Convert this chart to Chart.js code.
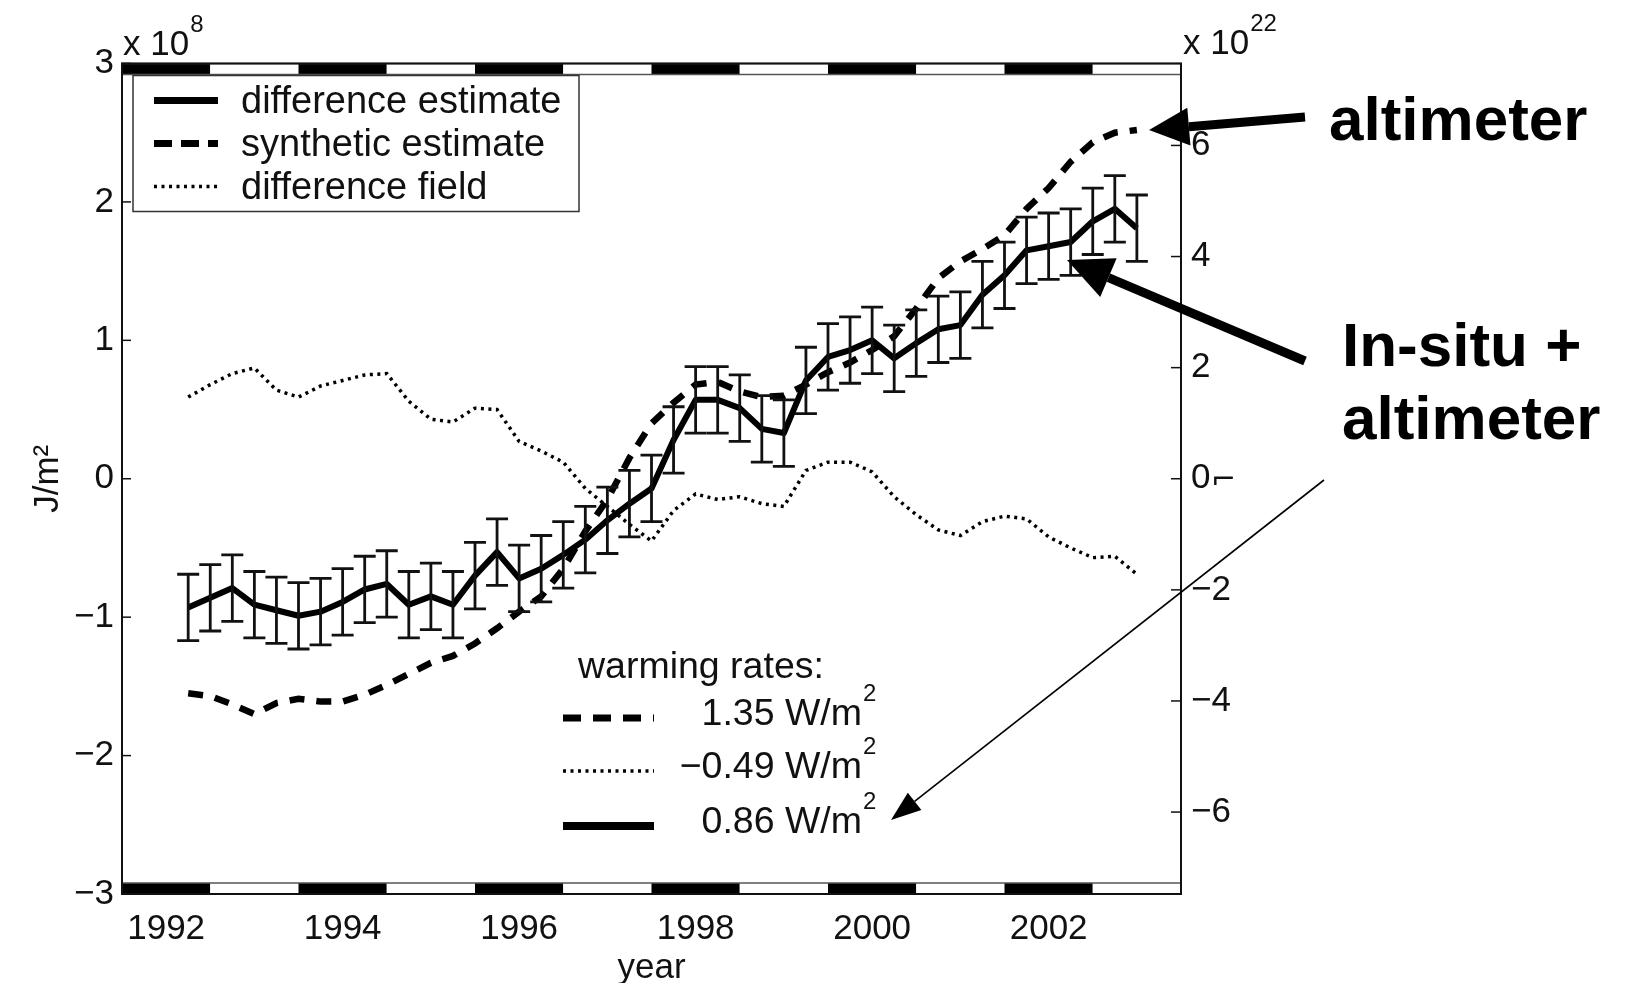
<!DOCTYPE html>
<html>
<head>
<meta charset="utf-8">
<script src="https://cdn.jsdelivr.net/npm/chart.js@4.4.1/dist/chart.umd.min.js"></script>
<style>
html,body{margin:0;padding:0;background:#fff;}
canvas{display:block;}
</style>
</head>
<body>
<canvas id="mycanvas" width="1628" height="983"></canvas>
<script>
// quarterly sample times (year)
var years=[1992.25,1992.5,1992.75,1993,1993.25,1993.5,1993.75,1994,1994.25,1994.5,1994.75,
	1995,1995.25,1995.5,1995.75,1996,1996.25,1996.5,1996.75,1997,1997.25,1997.5,1997.75,
	1998,1998.25,1998.5,1998.75,1999,1999.25,1999.5,1999.75,2000,2000.25,2000.5,2000.75,
	2001,2001.25,2001.5,2001.75,2002,2002.25,2002.5,2002.75,2003];

// difference estimate (x 10^8 J/m2), with error bar half widths
var diffEst=[-0.93,-0.86,-0.79,-0.91,-0.95,-0.99,-0.96,-0.89,-0.80,-0.76,-0.91,
	-0.85,-0.91,-0.70,-0.53,-0.72,-0.65,-0.55,-0.44,-0.30,-0.18,-0.07,0.28,
	0.57,0.57,0.51,0.36,0.33,0.71,0.88,0.93,1.00,0.87,0.98,1.08,
	1.11,1.33,1.47,1.65,1.68,1.71,1.86,1.95,1.81];
var errHalf=[0.24,0.24,0.24,0.24,0.24,0.24,0.24,0.24,0.24,0.24,0.24,
	0.24,0.24,0.24,0.24,0.24,0.24,0.24,0.24,0.24,0.24,0.24,0.24,
	0.24,0.24,0.24,0.24,0.24,0.24,0.24,0.24,0.24,0.24,0.24,0.24,
	0.24,0.24,0.24,0.24,0.24,0.24,0.24,0.24,0.24];

// synthetic estimate (altimeter)
var synthEst=[-1.55,-1.57,-1.63,-1.70,-1.62,-1.59,-1.61,-1.61,-1.56,-1.49,-1.41,
	-1.33,-1.28,-1.19,-1.08,-0.96,-0.85,-0.65,-0.38,-0.15,0.15,0.40,0.55,
	0.68,0.70,0.63,0.59,0.60,0.68,0.77,0.84,0.93,1.03,1.23,1.45,
	1.57,1.66,1.76,1.95,2.10,2.29,2.43,2.50,2.52];

// difference field
var diffField=[0.59,0.68,0.76,0.80,0.64,0.59,0.67,0.71,0.75,0.76,0.56,
	0.43,0.41,0.51,0.50,0.27,0.20,0.12,-0.07,-0.20,-0.33,-0.45,-0.23,
	-0.11,-0.15,-0.13,-0.18,-0.20,0.06,0.12,0.12,0.05,-0.13,-0.26,-0.37,
	-0.41,-0.31,-0.27,-0.29,-0.42,-0.50,-0.57,-0.56,-0.69];

var xTickYears=[1992,1994,1996,1998,2000,2002];
var leftTicks=[-3,-2,-1,0,1,2,3];
var rightTicks=[-6,-4,-2,0,2,4,6];
var stripBlackYears=[1992,1994,1996,1998,2000,2002];

var seriesNames=["difference estimate","synthetic estimate","difference field"];
var rateLabels=["1.35 W/m","\u22120.49 W/m","0.86 W/m"];

var FONT="'Liberation Sans', Arial, Helvetica, sans-serif";
Chart.defaults.font.family=FONT;
Chart.defaults.color="#111";

function pts(vals){
	var out=[];
	for (var i=0;i<years.length;i++) out.push({x:years[i],y:vals[i]});
	return out;
}
function minus(v){ return String(v).replace('-','\u2212'); }

function arrow(ctx,x1,y1,x2,y2,w,hl,hw){
	var a=Math.atan2(y2-y1,x2-x1);
	var bx=x2-hl*Math.cos(a), by=y2-hl*Math.sin(a);
	ctx.lineWidth=w;
	ctx.beginPath(); ctx.moveTo(x1,y1); ctx.lineTo(bx,by); ctx.stroke();
	ctx.beginPath(); ctx.moveTo(x2,y2);
	ctx.lineTo(bx+hw*Math.sin(a),by-hw*Math.cos(a));
	ctx.lineTo(bx-hw*Math.sin(a),by+hw*Math.cos(a));
	ctx.closePath(); ctx.fill();
}
function supText(ctx,txt,sup,x,y,size,supSize,align){
	ctx.font=size+"px "+FONT;
	ctx.textAlign=align||'left';
	ctx.textBaseline='middle';
	ctx.fillText(txt,x,y);
	var w=ctx.measureText(txt).width;
	var ex=(align==='right')?x:x+w;
	ctx.font=supSize+"px "+FONT;
	ctx.textAlign='left';
	ctx.fillText(sup,ex+1,y-size*0.55);
}

var matlabBits={
	id:'matlabBits',
	afterDatasetsDraw:function(chart){
		var ctx=chart.ctx, a=chart.chartArea;
		var xs=chart.scales.x, yl=chart.scales.y, yr=chart.scales.y2;
		ctx.save();
		// error bars
		ctx.strokeStyle="#111"; ctx.lineWidth=2.8;
		for (var i=0;i<years.length;i++){
			var px=xs.getPixelForValue(years[i]);
			var t=yl.getPixelForValue(diffEst[i]+errHalf[i]);
			var b=yl.getPixelForValue(diffEst[i]-errHalf[i]);
			ctx.beginPath();
			ctx.moveTo(px,t); ctx.lineTo(px,b);
			ctx.moveTo(px-11,t); ctx.lineTo(px+11,t);
			ctx.moveTo(px-11,b); ctx.lineTo(px+11,b);
			ctx.stroke();
		}
		// black/white year strips at top and bottom
		var sh=11;
		for (var yv=xs.min; yv<xs.max-0.01; yv+=1){
			var x0=xs.getPixelForValue(yv), x1=xs.getPixelForValue(yv+1);
			var black=stripBlackYears.indexOf(Math.round(yv+0.5))>=0;
			ctx.fillStyle=black?"#000":"#fff";
			ctx.fillRect(x0,a.top,x1-x0,sh);
			ctx.fillRect(x0,a.bottom-sh,x1-x0,sh);
		}
		ctx.strokeStyle="#555"; ctx.lineWidth=1.5;
		ctx.strokeRect(a.left,a.top,a.width,sh);
		ctx.strokeRect(a.left,a.bottom-sh,a.width,sh);
		// frame
		ctx.strokeStyle="#111"; ctx.lineWidth=2;
		ctx.strokeRect(a.left,a.top,a.width,a.height);
		// inward ticks
		ctx.lineWidth=1.5;
		leftTicks.forEach(function(v){
			var py=yl.getPixelForValue(v);
			ctx.beginPath(); ctx.moveTo(a.left,py); ctx.lineTo(a.left+9,py); ctx.stroke();
		});
		rightTicks.forEach(function(v){
			var py=yr.getPixelForValue(v);
			ctx.beginPath(); ctx.moveTo(a.right-10,py); ctx.lineTo(a.right,py); ctx.stroke();
		});
		// exponent labels
		ctx.fillStyle="#111";
		supText(ctx,"x 10","8",a.left+1,45,35,24);
		supText(ctx,"x 10","22",a.right+2,44,35,24);
		ctx.font="30px 'DejaVu Sans'"; ctx.textAlign='left'; ctx.textBaseline='middle';
		ctx.fillText("\u2310",a.right+30,yr.getPixelForValue(0)+2);

		// top-left legend
		ctx.strokeStyle="#333"; ctx.lineWidth=1.5;
		ctx.strokeRect(a.left+11,a.top+12,446,136);
		var ly=[a.top+37,a.top+80,a.top+123];
		for (var k=0;k<3;k++){
			ctx.strokeStyle="#000";
			ctx.lineWidth=(k==2)?3.5:7;
			ctx.setLineDash(k==1?[18,9]:(k==2?[3,4.5]:[]));
			ctx.beginPath(); ctx.moveTo(a.left+32,ly[k]); ctx.lineTo(a.left+96,ly[k]); ctx.stroke();
			ctx.setLineDash([]);
			ctx.font="38px "+FONT; ctx.textAlign='left'; ctx.textBaseline='middle';
			ctx.fillText(seriesNames[k],a.left+119,ly[k]+2);
		}

		// warming-rate legend
		ctx.font="37.5px "+FONT; ctx.textAlign='left'; ctx.textBaseline='middle';
		ctx.fillText("warming rates:",578,668);
		var ry=[718,771,826];
		var rdash=[[18,12],[3,4.5],[]];
		var rw=[7,3.5,8];
		for (var k=0;k<3;k++){
			ctx.lineWidth=rw[k]; ctx.setLineDash(rdash[k]);
			ctx.beginPath(); ctx.moveTo(563,ry[k]); ctx.lineTo(654,ry[k]); ctx.stroke();
			ctx.setLineDash([]);
			supText(ctx,rateLabels[k],"2",862,ry[k]-3,37.5,24,'right');
		}

		// annotations
		ctx.fillStyle="#000"; ctx.strokeStyle="#000";
		ctx.font="bold 62px "+FONT; ctx.textAlign='left'; ctx.textBaseline='alphabetic';
		ctx.fillText("altimeter",1329,140);
		ctx.fillText("In-situ +",1342,366);
		ctx.fillText("altimeter",1342,439);
		arrow(ctx,1305,117,1149,130,9,40,19);
		arrow(ctx,1305,361,1067,260,9,45,21);
		arrow(ctx,1324,480,891,820,1.6,30,11);
		ctx.restore();
	}
};

var ctx=document.getElementById("mycanvas");
var chartdata={
	datasets:[{
		label:seriesNames[0],
		data:pts(diffEst),
		borderColor:"#000",
		borderWidth:6,
		pointRadius:0,
		tension:0,
		borderJoinStyle:'round',
		fill:false
	},{
		label:seriesNames[1],
		data:pts(synthEst),
		borderColor:"#000",
		borderWidth:6.5,
		borderDash:[15,12],
		pointRadius:0,
		tension:0,
		fill:false
	},{
		label:seriesNames[2],
		data:pts(diffField),
		borderColor:"#000",
		borderWidth:3.5,
		borderDash:[3,4.5],
		pointRadius:0,
		tension:0,
		fill:false
	}]
};

var linegraph=new Chart(ctx,{
	type:'line',
	data:chartdata,
	plugins:[matlabBits],
	options:{
		responsive:false,
		devicePixelRatio:1,
		animation:false,
		layout:{padding:{top:63.5,left:0,right:0,bottom:0}},
		plugins:{legend:{display:false},tooltip:{enabled:false}},
		scales:{
			x:{
				type:'linear',
				min:1991.5,max:2003.5,
				afterBuildTicks:function(s){ s.ticks=xTickYears.map(function(v){return {value:v};}); },
				afterFit:function(s){ s.height=89; },
				grid:{display:false,drawTicks:false},
				border:{display:false},
				ticks:{padding:14,font:{size:35},color:"#111",callback:function(v){return String(v);}},
				title:{display:true,text:"year",font:{size:35,lineHeight:0.8},color:"#111",padding:{top:0,bottom:1}}
			},
			y:{
				type:'linear',position:'left',
				min:-3,max:3,
				afterBuildTicks:function(s){ s.ticks=leftTicks.map(function(v){return {value:v};}); },
				afterFit:function(s){ s.width=122; },
				grid:{display:false,drawTicks:false},
				border:{display:false},
				ticks:{padding:8,font:{size:35},color:"#111",callback:function(v){return minus(v);}},
				title:{display:true,text:"J/m\u00b2",font:{size:35,lineHeight:1.2},color:"#111",padding:{top:27,bottom:0}}
			},
			y2:{
				type:'linear',position:'right',
				min:-7.475,max:7.475,
				afterBuildTicks:function(s){ s.ticks=rightTicks.map(function(v){return {value:v};}); },
				afterFit:function(s){ s.width=447; },
				grid:{display:false,drawTicks:false},
				border:{display:false},
				ticks:{padding:10,font:{size:35},color:"#111",callback:function(v){return minus(v);}}
			}
		}
	}
});
</script>
</body>
</html>
